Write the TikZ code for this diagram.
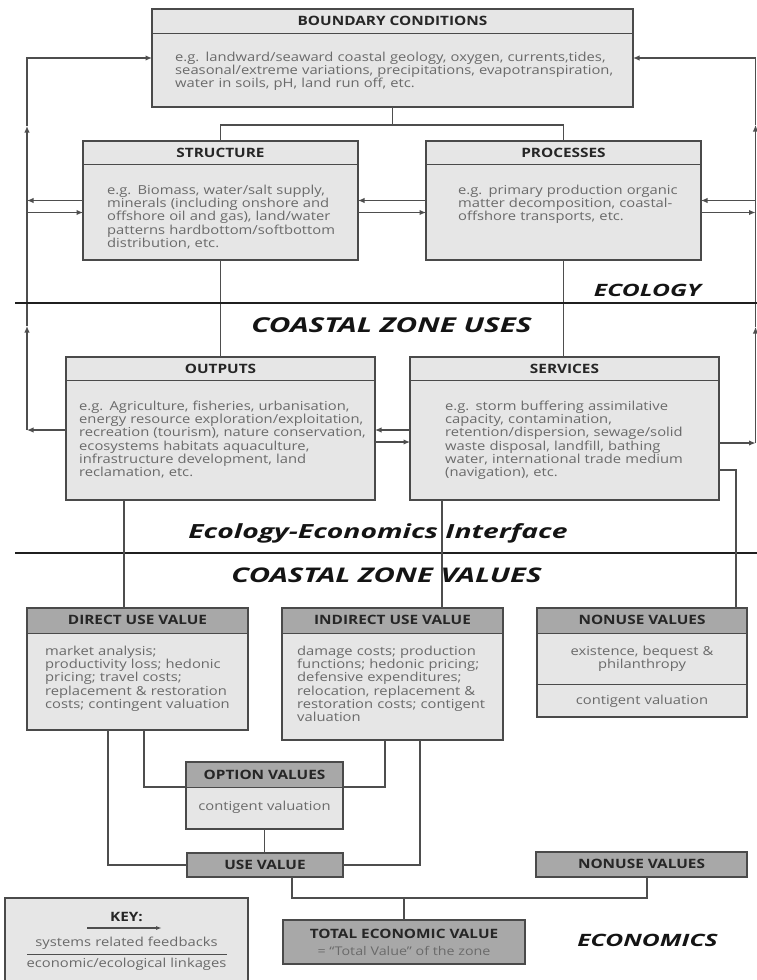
\documentclass[tikz,border=0pt]{standalone}
\usepackage{fontspec}
\setmainfont{Open Sans}[FakeStretch=1.19]
\newfontfamily\sectionfont{Open Sans}[FakeStretch=1.45]
\usetikzlibrary{arrows.meta}

\definecolor{bodyfill}{HTML}{E6E6E6}
\definecolor{hdrdark}{HTML}{A8A8A8}
\definecolor{boxline}{HTML}{4A4A4A}
\definecolor{connline}{HTML}{4E4E4E}
\definecolor{bodytxt}{HTML}{6A6A6A}
\definecolor{titletxt}{HTML}{262626}

\tikzset{
  box/.style={draw=boxline, line width=1.25pt, fill=bodyfill, inner sep=0pt, outer sep=0pt},
  hdr/.style 2 args={path picture={
      \fill[#2] (path picture bounding box.north west) rectangle ([yshift=-#1pt]path picture bounding box.north east);
      \draw[boxline, line width=1pt] ([yshift=-#1pt]path picture bounding box.north west) -- ([yshift=-#1pt]path picture bounding box.north east);}},
  darkbox/.style={box, fill=hdrdark},
  conn/.style={draw=connline, line width=1.2pt},
  fb/.style={conn, -{Latex[length=6.5pt,width=5.5pt]}},
  divider/.style={draw=black!88, line width=2.3pt},
  boxtitle/.style={inner sep=0pt, anchor=base, text=titletxt, font=\fontsize{12.9}{14}\selectfont\bfseries},
  bodytext/.style={inner sep=0pt, anchor=base west, text=bodytxt, text width=#1, align=left,
      font=\fontsize{12.4}{13.1}\selectfont},
  ctrtext/.style={inner sep=0pt, anchor=base, text=bodytxt, text width=#1, align=center,
      font=\fontsize{12.4}{13.1}\selectfont},
  section/.style={inner sep=0pt, anchor=base, text=black!92, font=\sectionfont\fontsize{#1}{24}\selectfont\bfseries\itshape},
}

\begin{document}
\begin{tikzpicture}[x=1pt,y=-1pt]
\useasboundingbox (0,0) rectangle (757,980);
\fill[white] (0,0) rectangle (757,980);

% ---------- ecology boxes ----------
\node[box, hdr={24}{bodyfill}, minimum width=481, minimum height=98] (bnd) at (392.5,58) {};
\node[box, hdr={23}{bodyfill}, minimum width=275, minimum height=119] (strc) at (220.5,200.5) {};
\node[box, hdr={23}{bodyfill}, minimum width=275, minimum height=119] (procs) at (563.5,200.5) {};
\node[box, hdr={23}{bodyfill}, minimum width=309, minimum height=143] (outs) at (220.5,428.5) {};
\node[box, hdr={23}{bodyfill}, minimum width=309, minimum height=143] (serv) at (564.5,428.5) {};

% ---------- economics boxes ----------
\node[box, hdr={25}{hdrdark}, minimum width=221, minimum height=122] (dir) at (137.5,669) {};
\node[box, hdr={25}{hdrdark}, minimum width=221, minimum height=132] (ind) at (392.5,674) {};
\node[box, hdr={25}{hdrdark}, minimum width=210, minimum height=109] (nua) at (642,662.5) {};
\draw[boxline, line width=1pt] (nua.west |- 0,684) -- (nua.east |- 0,684);

% links between the ecology boxes
\coordinate (bj) at (392.5,125);
\draw[conn] (bnd.south) -- (bj);
\draw[conn] (strc.north) |- (bj) -| (procs.north);
\draw[conn] (strc.south) -- (outs.north);
\draw[conn] (procs.south) -- (procs.south |- serv.north);

% feedbacks between neighbouring boxes
\draw[fb] (procs.west) -- (strc.east);
\draw[fb] ([yshift=-12pt]strc.east) -- ([yshift=-12pt]strc.east -| procs.west);
\draw[fb] ([yshift=-1.5pt]serv.west) -- ([yshift=-1.5pt]outs.east);
\draw[fb] ([yshift=-13.5pt]outs.east) -- ([yshift=-13.5pt]outs.east -| serv.west);

% left feedback loop
\coordinate (lft) at (27,0);
\draw[fb] ([yshift=-1.5pt]outs.west) -- ([yshift=-1.5pt]outs.west -| lft);
\draw[fb] (lft |- 0,430) -- (lft |- 0,326);
\draw[fb] (lft |- 0,326) -- (lft |- 0,126);
\draw[fb] (lft |- 0,126) -- (lft |- bnd.west) -- (bnd.west);
\draw[fb] (strc.west) -- (strc.west -| lft);
\draw[fb] ([yshift=-12pt]strc.west -| lft) -- ([yshift=-12pt]strc.west);

% right feedback loop
\coordinate (rgt) at (755.5,0);
\draw[fb] ([yshift=-14.5pt]serv.east) -- ([yshift=-14.5pt]serv.east -| rgt);
\draw[fb] (rgt |- 0,443) -- (rgt |- 0,327);
\draw[fb] (rgt |- 0,327) -- (rgt |- 0,125);
\draw[fb] (rgt |- 0,125) -- (rgt |- bnd.east) -- (bnd.east);
\draw[fb] (procs.east -| rgt) -- (procs.east);
\draw[fb] ([yshift=-12pt]procs.east) -- ([yshift=-12pt]procs.east -| rgt);

% section dividers
\coordinate (da) at (15,303);
\coordinate (db) at (757,303);
\coordinate (dc) at (15,553);
\coordinate (dd) at (757,553);
\draw[divider] (da) -- (db);
\draw[divider] (dc) -- (dd);

% ecology to economics links
\draw[conn] (outs.south -| 124,0) -- (dir.north -| 124,0);
\draw[conn] (serv.south -| 442,0) -- (ind.north -| 442,0);
\draw[conn] ([yshift=-41.5pt]serv.east) -| (nua.north -| 736,0);

% lower economics boxes
\draw[conn] (dir.south -| 144,0) |- (385,787) -- (ind.south -| 385,0);
\node[box, hdr={25}{hdrdark}, minimum width=157, minimum height=67] (opt) at (264.5,795.5) {};
\node[darkbox, minimum width=156, minimum height=24] (use) at (265,865) {};
\node[darkbox, minimum width=211, minimum height=25] (nub) at (641.5,864.5) {};
\node[darkbox, minimum width=242, minimum height=44] (tot) at (404,942) {};
\draw[conn] (opt.south) -- (opt.south |- use.north);
\draw[conn] (dir.south -| 108,0) |- (use.west);
\draw[conn] (ind.south -| 420,0) |- (use.east);
\coordinate (tj) at (404,898);
\draw[conn] (use.south -| 292,0) |- (tj) -| (nub.south -| 647,0);
\draw[conn] (tot.north) -- (tj);

% key
\node[box, minimum width=243, minimum height=95, anchor=north west] (key) at (5,898) {};
\coordinate (ka) at (87,928);
\coordinate (kb) at (162,928);
\coordinate (kc) at (27,954);
\coordinate (kd) at (227,954);
\draw[conn, -{Latex[length=6pt,width=4pt]}] (ka) -- (kb);
\draw[connline, line width=0.8pt] (kc) -- (kd);

% ---------- titles ----------
\node[boxtitle] (tbnd) at (392.5,25.5) {BOUNDARY CONDITIONS};
\node[boxtitle] (tstrc) at (220.5,157.5) {STRUCTURE};
\node[boxtitle] (tprocs) at (563.5,157.5) {PROCESSES};
\node[boxtitle] (touts) at (220.5,373.5) {OUTPUTS};
\node[boxtitle] (tserv) at (564.5,373.5) {SERVICES};
\node[boxtitle] (tdir) at (137.5,624.7) {DIRECT USE VALUE};
\node[boxtitle] (tind) at (392.5,624.7) {INDIRECT USE VALUE};
\node[boxtitle] (tnua) at (642,624.7) {NONUSE VALUES};
\node[boxtitle] (topt) at (264.5,779.7) {OPTION VALUES};
\node[boxtitle] (tuse) at (265,869) {USE VALUE};
\node[boxtitle] (tnub) at (641.5,868.7) {NONUSE VALUES};
\node[boxtitle] (ttot) at (404,938.7) {TOTAL ECONOMIC VALUE};
\node[boxtitle, text=bodytxt, font=\fontsize{12}{13}\selectfont] (ttotb) at (404,955.5) {= “Total Value” of the zone};
\node[boxtitle] (tkey) at (126.5,921) {KEY:};

% ---------- body texts ----------
\node[bodytext=470pt] (xbnd) at (175,61.5) {e.g. landward/seaward coastal geology, oxygen, currents,tides,\\seasonal/extreme variations, precipitations, evapotranspiration,\\water in soils, pH, land run off, etc.};
\node[bodytext=250pt] (xstrc) at (107,194.7) {e.g. Biomass, water/salt supply,\\minerals (including onshore and\\offshore oil and gas), land/water\\patterns hardbottom/softbottom\\distribution, etc.};
\node[bodytext=240pt] (xprocs) at (458,194.7) {e.g. primary production organic\\matter decomposition, coastal-\\offshore transports, etc.};
\node[bodytext=295pt] (xouts) at (79,410.7) {e.g. Agriculture, fisheries, urbanisation,\\energy resource exploration/exploitation,\\recreation (tourism), nature conservation,\\ecosystems habitats aquaculture,\\infrastructure development, land\\reclamation, etc.};
\node[bodytext=270pt] (xserv) at (445,410.7) {e.g. storm buffering assimilative\\capacity, contamination,\\retention/dispersion, sewage/solid\\waste disposal, landfill, bathing\\water, international trade medium\\(navigation), etc.};
\node[bodytext=200pt] (xdir) at (45,655.7) {market analysis;\\productivity loss; hedonic\\pricing; travel costs;\\replacement \& restoration\\costs; contingent valuation};
\node[bodytext=200pt] (xind) at (297,655.7) {damage costs; production\\functions; hedonic pricing;\\defensive expenditures;\\relocation, replacement \&\\restoration costs; contigent\\valuation};
\node[ctrtext=200pt] (xnua) at (642,655.7) {existence, bequest \&\\philanthropy};
\node[ctrtext=200pt] (xnuc) at (642,704.7) {contigent valuation};
\node[ctrtext=150pt] (xopt) at (264.5,810.7) {contigent valuation};
\node[ctrtext=230pt] (xkeya) at (126.5,946.7) {systems related feedbacks};
\node[ctrtext=230pt] (xkeyb) at (126.5,967.7) {economic/ecological linkages};

% ---------- section headings ----------
\node[section=17] (secA) at (647.5,296) {ECOLOGY};
\node[section=20.5] (secB) at (391.5,332) {COASTAL ZONE USES};
\node[section=19.5] (secC) at (378,538.5) {Ecology-Economics Interface};
\node[section=20.2] (secD) at (386.5,582) {COASTAL ZONE VALUES};
\node[section=17] (secE) at (647.5,946) {ECONOMICS};
\end{tikzpicture}
\end{document}
